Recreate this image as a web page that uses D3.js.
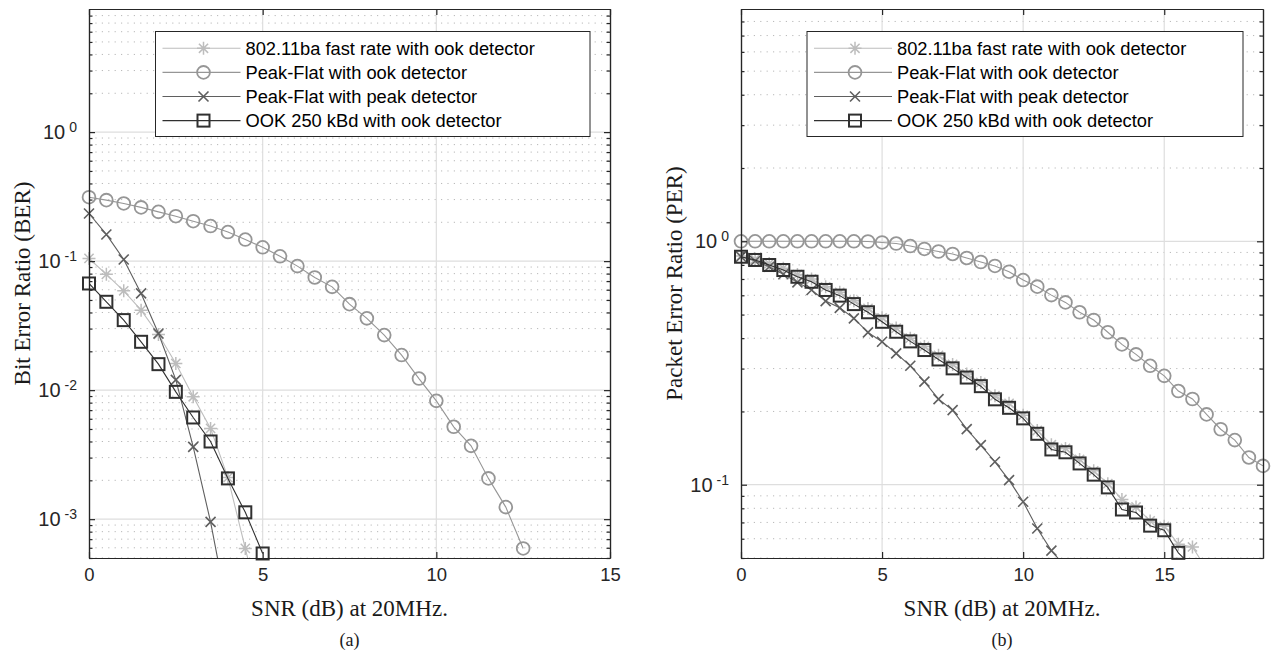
<!DOCTYPE html>
<html>
<head>
<meta charset="utf-8">
<script src="https://cdn.jsdelivr.net/npm/d3@7"></script>
<style>
  body { margin: 0; background: #fff; }
</style>
</head>
<body>
<div id="chart"></div>
<script>
// legend entries, same for both panels
const legendLabels = [
  "802.11ba fast rate with ook detector",
  "Peak-Flat with ook detector",
  "Peak-Flat with peak detector",
  "OOK 250 kBd with ook detector"
];

// (a) BER vs SNR
const snrBer = [0, 0.5, 1, 1.5, 2, 2.5, 3, 3.5, 4, 4.5, 5, 5.5, 6, 6.5, 7, 7.5, 8, 8.5, 9, 9.5, 10, 10.5, 11, 11.5, 12, 12.5];
const berFast = [0.105, 0.079, 0.0589, 0.0417, 0.027, 0.0161, 0.00888, 0.00505, 0.0021, 0.000593, 0.00017];
const berPeakFlatOok = [0.313, 0.297, 0.280, 0.261, 0.241, 0.223, 0.204, 0.187, 0.168, 0.147, 0.128, 0.109, 0.0915,
  0.0747, 0.0632, 0.0464, 0.0360, 0.0267, 0.0187, 0.0123, 0.00826, 0.0052, 0.0037, 0.00207, 0.00124, 0.000593];
const berPeakFlatPeak = [0.234, 0.161, 0.103, 0.0562, 0.0275, 0.0120, 0.00363, 0.000953, 0.00019];
const berOok250 = [0.0671, 0.0484, 0.0349, 0.0237, 0.0159, 0.0097, 0.00614, 0.0040, 0.00207, 0.00113, 0.000542];

// (b) PER vs SNR
const snrPer = [0, 0.5, 1, 1.5, 2, 2.5, 3, 3.5, 4, 4.5, 5, 5.5, 6, 6.5, 7, 7.5, 8, 8.5, 9, 9.5, 10, 10.5, 11, 11.5,
  12, 12.5, 13, 13.5, 14, 14.5, 15, 15.5, 16, 16.5, 17, 17.5, 18, 18.5];
const perFast = [0.87, 0.845, 0.81, 0.775, 0.73, 0.70, 0.65, 0.617, 0.57, 0.53, 0.485, 0.44, 0.40, 0.37, 0.34, 0.312,
  0.285, 0.263, 0.232, 0.216, 0.193, 0.167, 0.146, 0.141, 0.127, 0.114, 0.101, 0.087, 0.081, 0.071, 0.0675, 0.057, 0.0555, 0.045];
const perPeakFlatOok = [1, 1, 1, 1, 1, 1, 1, 1, 1, 0.998, 0.989, 0.979, 0.956, 0.930, 0.908, 0.887, 0.854, 0.822, 0.792,
  0.750, 0.693, 0.651, 0.601, 0.561, 0.511, 0.475, 0.423, 0.377, 0.343, 0.308, 0.280, 0.2426, 0.225, 0.1945, 0.169, 0.1525, 0.1294, 0.1195];
const perPeakFlatPeak = [0.864, 0.830, 0.786, 0.732, 0.678, 0.631, 0.568, 0.533, 0.4826, 0.4226, 0.3867, 0.3465, 0.308,
  0.265, 0.2248, 0.2026, 0.1692, 0.1455, 0.1242, 0.1044, 0.0851, 0.0661, 0.0536, 0.046];
const perOok250 = [0.864, 0.838, 0.799, 0.762, 0.715, 0.682, 0.631, 0.598, 0.552, 0.511, 0.467, 0.425, 0.388, 0.3575,
  0.327, 0.3006, 0.2756, 0.254, 0.2243, 0.207, 0.1873, 0.1619, 0.1396, 0.1359, 0.1223, 0.110, 0.0975, 0.0791, 0.0769,
  0.0679, 0.065, 0.0525, 0.046];

const xTicks = [0, 5, 10, 15];
const berTicks = [1e-3, 1e-2, 1e-1, 1];
const perTicks = [0.1, 1];

const width = 1277, height = 654;
const axisColor = "#262626";
const sans = "'Liberation Sans', Arial, Helvetica, sans-serif";
const serif = "'Liberation Serif', 'Times New Roman', Times, serif";

const styles = [
  {color: "#bdbdbd", marker: "star"},
  {color: "#969696", marker: "circle"},
  {color: "#5f5f5f", marker: "cross"},
  {color: "#303030", marker: "square"}
];

const svg = d3.select("#chart").append("svg")
  .attr("width", width)
  .attr("height", height)
  .style("background", "#fff");

function addMarker(sel, type, color) {
  if (type === "circle") {
    sel.append("circle").attr("r", 6.4).attr("fill", "none").attr("stroke", color).attr("stroke-width", 1.8);
  } else if (type === "square") {
    sel.append("rect").attr("x", -6).attr("y", -6).attr("width", 12).attr("height", 12)
       .attr("fill", "none").attr("stroke", color).attr("stroke-width", 2);
  } else if (type === "cross") {
    sel.append("path").attr("d", "M-5,-5L5,5M-5,5L5,-5").attr("stroke", color).attr("stroke-width", 1.6);
  } else {
    sel.append("path").attr("d", "M-6.5,0H6.5M0,-6.5V6.5M-4.6,-4.6L4.6,4.6M-4.6,4.6L4.6,-4.6")
       .attr("stroke", color).attr("stroke-width", 1.5);
  }
}

function drawPanel(p) {
  const g = svg.append("g");
  const x = d3.scaleLinear().domain(p.xDomain).range([p.left, p.right]);
  const y = d3.scaleLog().domain(p.yDomain).range([p.bottom, p.top]);

  // minor log values (2..9 per decade) inside the domain
  const [lo, hi] = p.yDomain;
  const minor = [];
  for (let e = Math.floor(Math.log10(lo)); e <= Math.ceil(Math.log10(hi)); e++) {
    for (let k = 2; k <= 9; k++) {
      const v = k * Math.pow(10, e);
      if (v >= lo * 0.999 && v < hi * 0.999) minor.push(v);
    }
  }

  // grid
  g.append("g").selectAll("line").data(minor).join("line")
    .attr("x1", p.left).attr("x2", p.right)
    .attr("y1", d => y(d)).attr("y2", d => y(d))
    .attr("stroke", "#b8b8b8").attr("stroke-width", 1).attr("stroke-dasharray", "1.2,5.2");
  g.append("g").selectAll("line").data(p.yTicks).join("line")
    .attr("x1", p.left).attr("x2", p.right)
    .attr("y1", d => y(d)).attr("y2", d => y(d))
    .attr("stroke", "#dedede").attr("stroke-width", 1.2);
  g.append("g").selectAll("line").data(xTicks.filter(d => d > p.xDomain[0] && d < p.xDomain[1])).join("line")
    .attr("x1", d => x(d)).attr("x2", d => x(d))
    .attr("y1", p.top).attr("y2", p.bottom)
    .attr("stroke", "#dedede").attr("stroke-width", 1.2);

  // series
  const clipId = "clip" + p.name;
  svg.append("clipPath").attr("id", clipId).append("rect")
    .attr("x", p.left).attr("y", p.top).attr("width", p.right - p.left).attr("height", p.bottom - p.top);

  const line = d3.line().x(d => x(d[0])).y(d => y(d[1]));
  p.series.forEach((vals, i) => {
    const st = styles[i];
    const pts = vals.map((v, j) => [p.snr[j], v]);
    g.append("path").datum(pts)
      .attr("d", line)
      .attr("fill", "none")
      .attr("stroke", st.color)
      .attr("stroke-width", 1.1)
      .attr("clip-path", `url(#${clipId})`);
    const inside = pts.filter(d => d[1] >= lo && d[1] <= hi && d[0] <= p.xDomain[1]);
    g.append("g").selectAll("g").data(inside).join("g")
      .attr("transform", d => `translate(${x(d[0])},${y(d[1])})`)
      .each(function () { addMarker(d3.select(this), st.marker, st.color); });
  });

  // axes, MATLAB style ticks pointing inwards on all four sides
  const bottom = g.append("g").attr("transform", `translate(0,${p.bottom})`)
    .call(d3.axisBottom(x).tickValues(xTicks).tickSize(-6).tickSizeOuter(0).tickPadding(10).tickFormat(d3.format("d")));
  bottom.attr("font-family", sans).attr("font-size", 18.5);
  g.append("g").attr("transform", `translate(0,${p.top})`)
    .call(d3.axisTop(x).tickValues(xTicks).tickSize(-6).tickSizeOuter(0).tickFormat(""));

  const left = g.append("g").attr("transform", `translate(${p.left},0)`)
    .call(d3.axisLeft(y).tickValues(p.yTicks).tickSize(-6).tickSizeOuter(0).tickPadding(12));
  left.attr("font-family", sans).attr("font-size", 20);
  left.selectAll(".tick text").each(function (d) {
    const t = d3.select(this);
    t.text(null);
    t.append("tspan").text("10");
    t.append("tspan").attr("dx", 4).attr("dy", "-0.48em").attr("font-size", 14)
      .text(String(Math.round(Math.log10(d))));
  });
  g.append("g").attr("transform", `translate(${p.left},0)`)
    .call(d3.axisLeft(y).tickValues(minor).tickSize(-3.5).tickSizeOuter(0).tickFormat(""));
  g.append("g").attr("transform", `translate(${p.right},0)`)
    .call(d3.axisRight(y).tickValues(p.yTicks).tickSize(-6).tickSizeOuter(0).tickFormat(""));
  g.append("g").attr("transform", `translate(${p.right},0)`)
    .call(d3.axisRight(y).tickValues(minor).tickSize(-3.5).tickSizeOuter(0).tickFormat(""));

  g.selectAll(".domain, .tick line").attr("stroke", axisColor).attr("stroke-width", 1.2);
  g.selectAll(".tick text").attr("fill", axisColor);

  // axis titles
  g.append("text")
    .attr("x", (p.left + p.right) / 2).attr("y", 616)
    .attr("text-anchor", "middle")
    .attr("font-family", serif).attr("font-size", 23).attr("fill", "#1a1a1a")
    .text("SNR (dB) at 20MHz.");
  g.append("text")
    .attr("transform", `translate(${p.left - 59},${(p.top + p.bottom) / 2}) rotate(-90)`)
    .attr("text-anchor", "middle")
    .attr("font-family", serif).attr("font-size", 23).attr("fill", "#1a1a1a")
    .text(p.yLabel);
  g.append("text")
    .attr("x", (p.left + p.right) / 2).attr("y", 646)
    .attr("text-anchor", "middle")
    .attr("font-family", serif).attr("font-size", 18).attr("fill", "#1a1a1a")
    .text(p.caption);

  // legend
  const lg = g.append("g").attr("transform", `translate(${p.legendX},31.5)`);
  lg.append("rect").attr("width", p.legendW).attr("height", 105)
    .attr("fill", "#fff").attr("stroke", axisColor).attr("stroke-width", 1);
  legendLabels.forEach((lab, i) => {
    const row = lg.append("g").attr("transform", `translate(0,${16.8 + i * 24.1})`);
    row.append("line").attr("x1", 7).attr("x2", 85).attr("stroke", styles[i].color).attr("stroke-width", 1.1);
    addMarker(row.append("g").attr("transform", "translate(48,0)"), styles[i].marker, styles[i].color);
    row.append("text").attr("x", 90).attr("dy", "0.35em")
      .attr("font-family", sans).attr("font-size", 18.3).attr("fill", "#000")
      .text(lab);
  });
}

drawPanel({
  name: "a", left: 89, right: 610, top: 9, bottom: 558,
  xDomain: [0, 15], yDomain: [5e-4, 9], yTicks: berTicks,
  snr: snrBer, series: [berFast, berPeakFlatOok, berPeakFlatPeak, berOok250],
  yLabel: "Bit Error Ratio (BER)", caption: "(a)",
  legendX: 155.5, legendW: 434.5
});

drawPanel({
  name: "b", left: 741, right: 1263, top: 9, bottom: 558,
  xDomain: [0, 18.5], yDomain: [0.05, 9], yTicks: perTicks,
  snr: snrPer, series: [perFast, perPeakFlatOok, perPeakFlatPeak, perOok250],
  yLabel: "Packet Error Ratio (PER)", caption: "(b)",
  legendX: 807, legendW: 436
});
</script>
</body>
</html>
